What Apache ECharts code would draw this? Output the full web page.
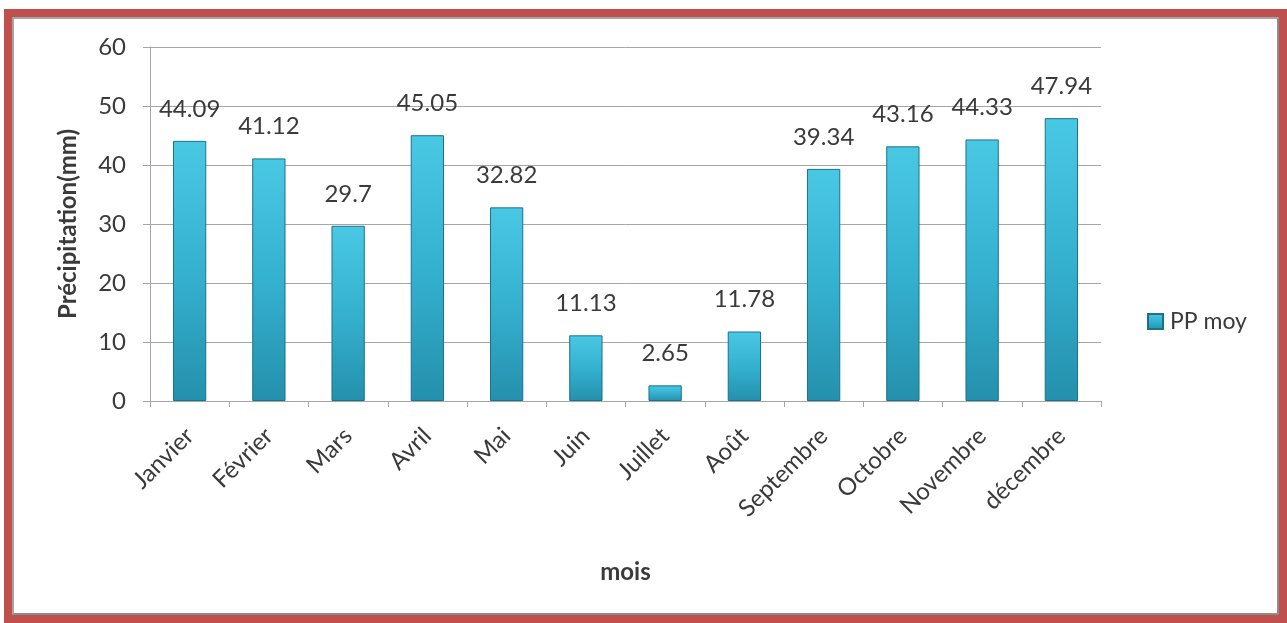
<!DOCTYPE html>
<html>
<head>
<meta charset="utf-8">
<script src="https://cdn.jsdelivr.net/npm/echarts@6/dist/echarts.min.js"></script>
<style>
  html, body { margin: 0; padding: 0; background: #fff; }
  #chart { position: absolute; left: 0; top: 0; width: 1287px; height: 623px; }
  /* cadre rouge + liseré gris */
  #frame {
    position: absolute; left: 4px; top: 9px; width: 1267px; height: 598px;
    border: 8px solid #c0504d; pointer-events: none;
  }
  #frame .inner {
    position: absolute; left: 0; top: 0; right: 0; bottom: 0;
    border: 2px solid #a6a6a6; border-right-color: #8c8c8c; border-bottom-color: #8c8c8c;
  }
</style>
</head>
<body>
<div id="chart"></div>
<div id="frame"><div class="inner"></div></div>
<script>
// données
const mois = ["Janvier", "Février", "Mars", "Avril", "Mai", "Juin", "Juillet", "Août", "Septembre", "Octobre", "Novembre", "décembre"];
const ppMoy = [44.09, 41.12, 29.7, 45.05, 32.82, 11.13, 2.65, 11.78, 39.34, 43.16, 44.33, 47.94];

const font = "Lato, 'Open Sans', sans-serif";
const txt = "#3a3a3a";

const myChart = echarts.init(document.getElementById("chart"));

// dégradé vertical : cyan clair en haut, bleu-vert foncé en bas
const barColor = new echarts.graphic.LinearGradient(0, 0, 0, 1, [
  { offset: 0, color: "#49c8e4" },
  { offset: 0.5, color: "#35b1d0" },
  { offset: 1, color: "#2490ad" },
]);

const options = {
  animation: false,
  textStyle: { fontFamily: font },
  grid: { left: 150, right: 186, top: 47, bottom: 222 },
  legend: {
    data: ["PP moy"],
    orient: "vertical",
    left: 1142,
    top: 305,
    itemWidth: 15,
    itemHeight: 15,
    itemGap: 6,
    icon: "rect",
    textStyle: { fontSize: 23, color: txt, fontFamily: font, padding: [0, 0, 0, 2] },
  },
  xAxis: {
    type: "category",
    data: mois,
    name: "mois",
    nameLocation: "middle",
    nameGap: 159,
    nameTextStyle: { fontSize: 24, fontWeight: "bold", color: txt, fontFamily: font },
    axisLine: { lineStyle: { color: "#a6a6a6", width: 1 } },
    axisTick: { show: true, length: 6, lineStyle: { color: "#a6a6a6" } },
    axisLabel: { rotate: 45, fontSize: 24, color: txt, margin: 31, fontFamily: font },
  },
  yAxis: {
    type: "value",
    min: 0,
    max: 60,
    interval: 10,
    name: "Précipitation(mm)",
    nameLocation: "middle",
    nameGap: 70,
    nameRotate: 90,
    nameTextStyle: { fontSize: 24, fontWeight: "bold", color: txt, fontFamily: font },
    axisLine: { show: true, lineStyle: { color: "#a6a6a6" } },
    axisTick: { show: true, length: 7, lineStyle: { color: "#a6a6a6" } },
    axisLabel: { fontSize: 24, color: txt, margin: 24, fontFamily: font },
    splitLine: { lineStyle: { color: "#a6a6a6", width: 1 } },
  },
  series: [
    {
      name: "PP moy",
      type: "bar",
      data: ppMoy,
      barWidth: "42%",
      itemStyle: { color: barColor, borderColor: "#1b7389", borderWidth: 1 },
      label: {
        show: true,
        position: "top",
        distance: 20,
        fontSize: 24,
        color: txt,
        fontFamily: font,
      },
    },
  ],
};

myChart.setOption(options);
</script>
</body>
</html>
